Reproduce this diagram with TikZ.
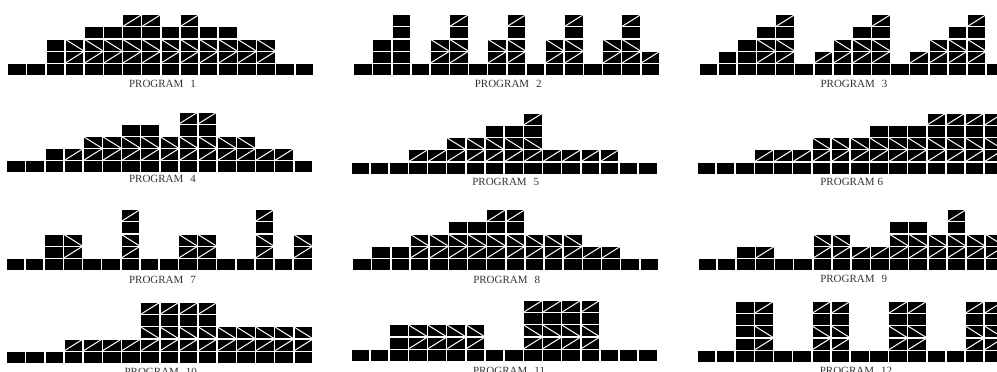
\documentclass[tikz,border=0pt]{standalone}
\usepackage{fontspec}
\setmainfont{Liberation Serif}
\tikzset{
  cellbox/.style={fill=black},
  cellslash/.style={draw=white, line width=1pt},
  proglabel/.style={font=\fontsize{11}{13}\selectfont, inner sep=0pt, text=black!80},
}

% ── Cell grid ─────────────────────────────────────────────
\newcount\cellrow
\def\cellw{17.6}
\def\cellh{11}
\def\colpitch{19.15}
\def\rowpitch{12.2}

% P = plain block, U = rising slash, D = falling slash
\newcommand\progcell[1]{%
  \pgfmathsetmacro\cy{\coly-\the\cellrow*\rowpitch}%
  \fill[cellbox] (\colx,\cy) rectangle ++(\cellw,-\cellh);%
  \if#1U\draw[cellslash] (\colx,\cy) -- ++(\cellw,-\cellh);\fi
  \if#1D\draw[cellslash] (\colx,\cy) ++(0,-\cellh) -- ++(\cellw,\cellh);\fi
}
\newcommand\progcolumn[1]{\global\cellrow=0 \expandafter\progcolnext#1\relax}
\def\progcolnext#1{\ifx#1\relax\else\progcell{#1}\global\advance\cellrow by 1 \expandafter\progcolnext\fi}
% #1 left x, #2 bottom y, #3 columns bottom-up
\newcommand\progpanel[3]{%
  \foreach \colspec [count=\i from 0] in {#3} {%
    \pgfmathsetmacro\colx{#1+\i*\colpitch}%
    \def\coly{#2}%
    \progcolumn{\colspec}%
  }%
}

\begin{document}
\begin{tikzpicture}[x=1pt, y=-1pt]
\useasboundingbox (0,0) rectangle (997,372);

% ── Row 1 ─────────────────────────────────────────────────
\progpanel{8.3}{75}{P,P,PPP,PUD,PUDP,PUDP,PUDPU,PUDPU,PUDP,PUDPU,PUDP,PUDP,PUD,PUD,P,P}
\progpanel{354.3}{75}{P,PPP,PPPPP,P,PUD,PUDPU,P,PUD,PUDPU,P,PUD,PUDPU,P,PUD,PUDPU,PU}
\progpanel{699.7}{75}{P,PP,PPP,PUDP,PUDPU,P,PU,PUD,PUDP,PUDPU,P,PU,PUD,PUDP,PUDPU,P}
\node[proglabel] (prog1) at (162.5,83.5) {PROGRAM\hspace{7pt}1};
\node[proglabel] (prog2) at (508.3,83.5) {PROGRAM\hspace{7pt}2};
\node[proglabel] (prog3) at (854,83.5) {PROGRAM\hspace{7pt}3};

% ── Row 2 ─────────────────────────────────────────────────
\progpanel{7.3}{172.3}{P,P,PP,PU,PUD,PUD,PUDP,PUDP,PUD,PUDPU,PUDPU,PUD,PUD,PU,PU,P}
\progpanel{351.7}{173.5}{P,P,P,PU,PU,PUD,PUD,PUDP,PUDP,PUDPU,PU,PU,PU,PU,P,P}
\progpanel{697.7}{173.5}{P,P,P,PU,PU,PU,PUD,PUD,PUD,PUDP,PUDP,PUDP,PUDPU,PUDPU,PUDPU,PUDPU}
\node[proglabel] (prog4) at (162.5,178.7) {PROGRAM\hspace{7pt}4};
\node[proglabel] (prog5) at (505.8,182.3) {PROGRAM\hspace{7pt}5};
\node[proglabel] (prog6) at (851.7,182) {PROGRAM 6};

% ── Row 3 ─────────────────────────────────────────────────
\progpanel{6.7}{270}{P,P,PPP,PUD,P,P,PUDPU,P,P,PUD,PUD,P,P,PUDPU,P,PUD}
\progpanel{353.3}{270}{P,PP,PP,PUD,PUD,PUDP,PUDP,PUDPU,PUDPU,PUD,PUD,PUD,PU,PU,P,P}
\progpanel{698.7}{270}{P,P,PP,PU,P,P,PUD,PUD,PU,PU,PUDP,PUDP,PUD,PUDPU,PUD,PUD}
\node[proglabel] (prog7) at (162.5,279.7) {PROGRAM\hspace{7pt}7};
\node[proglabel] (prog8) at (506.7,279.7) {PROGRAM\hspace{7pt}8};
\node[proglabel] (prog9) at (853.7,279) {PROGRAM\hspace{7pt}9};

% ── Row 4 ─────────────────────────────────────────────────
\progpanel{7.3}{362.7}{P,P,P,PU,PU,PU,PU,PUDPU,PUDPU,PUDPU,PUDPU,PUD,PUD,PUD,PUD,PUD}
\progpanel{351.7}{360.7}{P,P,PPP,PUD,PUD,PUD,PUD,P,P,PUDPU,PUDPU,PUDPU,PUDPU,P,P,P}
\progpanel{697.7}{361.7}{P,P,PPPPP,PUDPU,P,P,PUDPU,PUDPU,P,P,PUDPU,PUDPU,P,P,PUDPU,PUDPU}
\node[proglabel] (prog10) at (160.8,372) {PROGRAM\hspace{7pt}10};
\node[proglabel] (prog11) at (509,371) {PROGRAM\hspace{7pt}11};
\node[proglabel] (prog12) at (856,371) {PROGRAM\hspace{7pt}12};

\end{tikzpicture}
\end{document}
